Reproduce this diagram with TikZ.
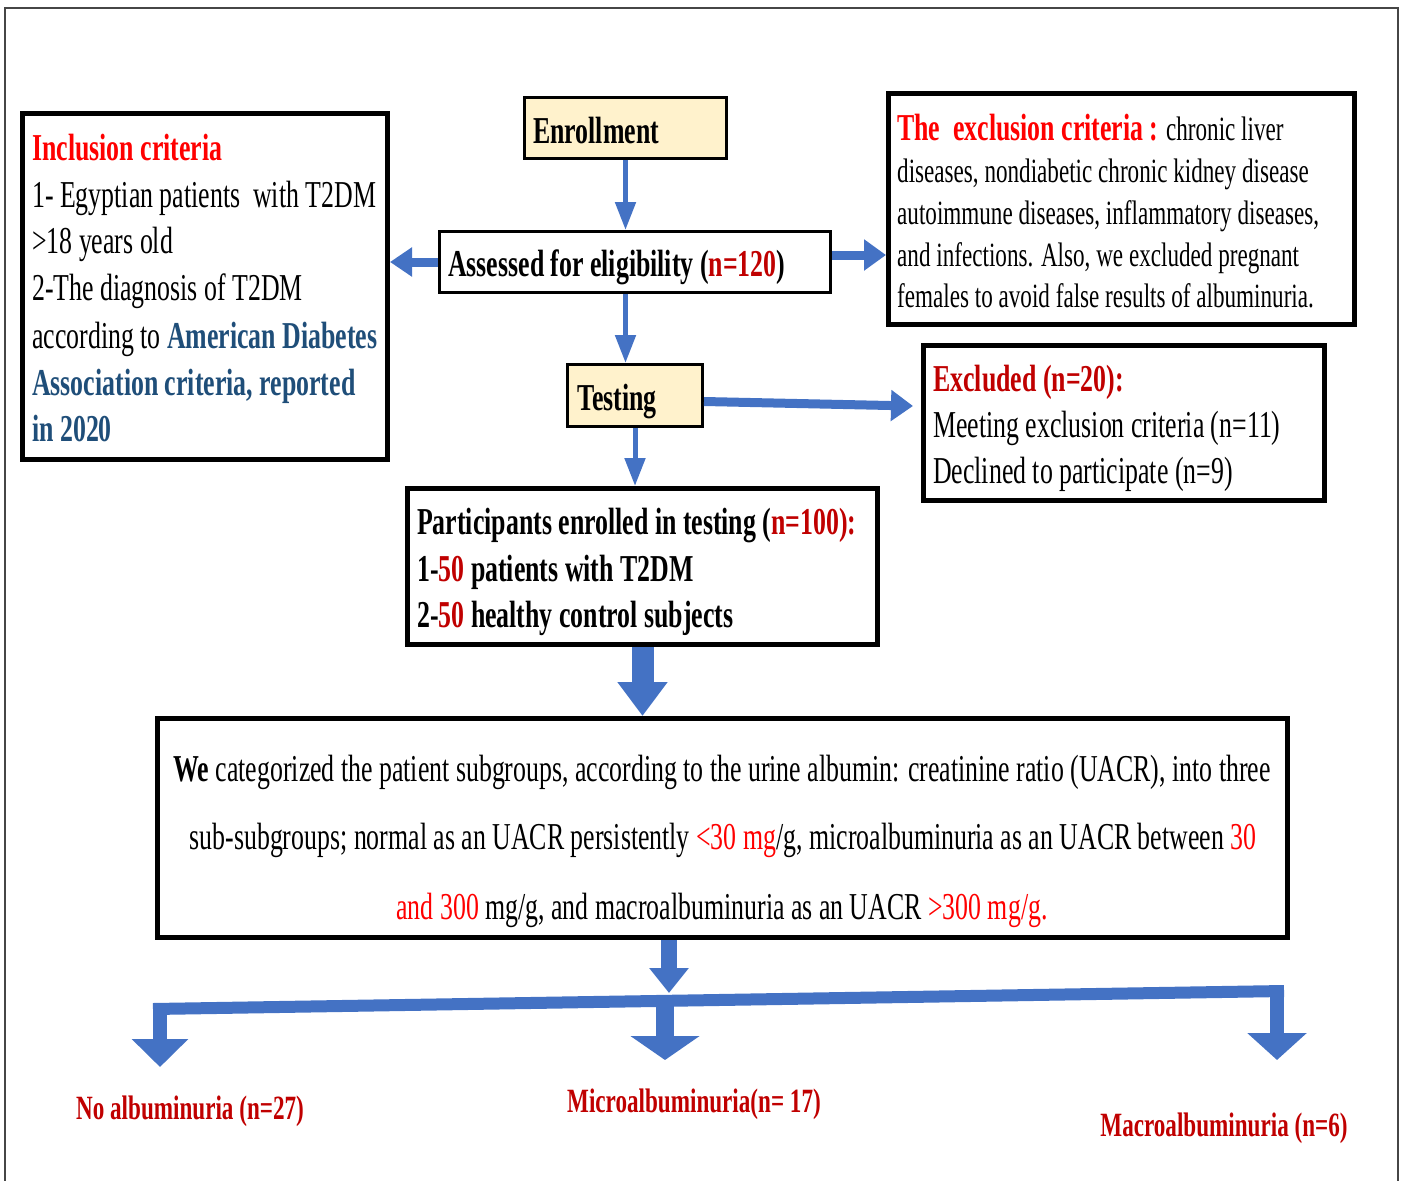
\documentclass[tikz,border=0pt]{standalone}
\usepackage{fontspec}
\setmainfont{Liberation Serif}[FakeStretch=0.68]
\usetikzlibrary{arrows.meta}
\definecolor{brightred}{RGB}{255,0,0}
\definecolor{darkred}{RGB}{192,0,0}
\definecolor{adablue}{RGB}{31,78,121}
\definecolor{arrowblue}{RGB}{68,114,196}
\definecolor{yellowfill}{RGB}{255,242,204}
\definecolor{framegray}{RGB}{70,70,70}
\newcommand\fbig{\fontsize{38}{46}\selectfont}
\newcommand\fmid{\fontsize{34}{42}\selectfont}
\begin{document}
\begin{tikzpicture}[x=1pt,y=-1pt,
  wbox/.style={draw=black, line width=5pt, fill=white, inner sep=0pt},
  thinbox/.style={draw=black, line width=3pt, fill=white, inner sep=0pt},
  ybox/.style={draw=black, line width=3pt, fill=yellowfill, inner sep=0pt},
  txt/.style={anchor=base west, inner sep=0pt, font=\fbig},
  txtm/.style={anchor=base west, inner sep=0pt, font=\fmid},
  ctxt/.style={anchor=base, inner sep=0pt, font=\fbig},
  lab/.style={anchor=base, inner sep=0pt, font=\fmid\bfseries, text=darkred},
  barrow/.style n args={3}{draw=arrowblue, line width=#1, -{Triangle[width=#2, length=#3]}},
  bar/.style={draw=arrowblue, line width=12pt}]
\useasboundingbox (0,0) rectangle (1402,1180);
% frame
\draw[framegray, line width=1.5pt] (5,1185) -- (5,8) -- (1398,8) -- (1398,1185);

% boxes
\node[wbox, minimum width=365pt, minimum height=346pt] (inc) at (205,286.5) {};
\node[ybox, minimum width=202pt, minimum height=61pt] (enr) at (625.5,128) {};
\node[thinbox, minimum width=391pt, minimum height=61pt] (ass) at (635,262) {};
\node[wbox, minimum width=466pt, minimum height=231pt] (exc) at (1121.5,209) {};
\node[ybox, minimum width=135pt, minimum height=62pt] (tst) at (635,395.5) {};
\node[wbox, minimum width=401pt, minimum height=155pt] (exd) at (1124,423) {};
\node[wbox, minimum width=470pt, minimum height=156pt] (par) at (642.5,566.5) {};
\node[wbox, minimum width=1130pt, minimum height=219pt] (big) at (722.5,828) {};

% inclusion text
\node[txt] (inc1) at (32,160) {\bfseries\color{brightred}Inclusion criteria};
\node[txt] (inc2) at (32,207) {1- Egyptian patients\ \ with T2DM};
\node[txt] (inc3) at (32,253) {>18 years old};
\node[txt] (inc4) at (32,300) {2-The diagnosis of T2DM};
\node[txt] (inc5) at (32,348) {according to {\bfseries\color{adablue}American Diabetes}};
\node[txt] (inc6) at (32,395) {\bfseries\color{adablue}Association criteria, reported};
\node[txt] (inc7) at (32,441) {\bfseries\color{adablue}in 2020};

% enrollment / assessed / testing
\node[txt] (enrt) at (533,143) {\bfseries Enrollment};
\node[txt] (asst) at (448,276) {\bfseries Assessed for eligibility ({\color{darkred}n=120})};
\node[txt] (tstt) at (577,410) {\bfseries Testing};

% exclusion criteria
\node[txtm] (exc1) at (897,141) {{\fbig\bfseries\color{brightred}The\ \ exclusion criteria :} chronic liver};
\node[txtm] (exc2) at (897,182) {diseases, nondiabetic chronic kidney disease};
\node[txtm] (exc3) at (897,224) {autoimmune diseases, inflammatory diseases,};
\node[txtm] (exc4) at (897,266) {and infections. Also, we excluded pregnant};
\node[txtm] (exc5) at (897,307) {females to avoid false results of albuminuria.};

% excluded
\node[txt] (exd1) at (933,391) {\bfseries\color{darkred}Excluded (n=20):};
\node[txt] (exd2) at (933,437) {Meeting exclusion criteria (n=11)};
\node[txt] (exd3) at (933,483) {Declined to participate (n=9)};

% participants
\node[txt] (par1) at (417,534) {\bfseries Participants enrolled in testing ({\color{darkred}n=100):}};
\node[txt] (par2) at (417,581) {\bfseries 1-{\color{darkred}50} patients with T2DM};
\node[txt] (par3) at (417,627) {\bfseries 2-{\color{darkred}50} healthy control subjects};

% big box text
\node[ctxt] (big1) at (722,781) {{\bfseries We} categorized the patient subgroups, according to the urine albumin: creatinine ratio (UACR), into three};
\node[ctxt] (big2) at (723,849) {sub-subgroups; normal as an UACR persistently {\color{brightred}<30 mg}/g, microalbuminuria as an UACR between {\color{brightred}30}};
\node[ctxt] (big3) at (722,919) {{\color{brightred}and 300} mg/g, and macroalbuminuria as an UACR {\color{brightred}>300 mg/g.}};

% bottom labels
\node[lab] (noalb) at (190,1119) {No albuminuria (n=27)};
\node[lab] (micro) at (694,1112) {Microalbuminuria(n= 17)};
\node[lab] (macro) at (1224,1136) {Macroalbuminuria (n=6)};

% coordinates for branching
\coordinate (bm) at (669,993);
\coordinate (bl) at (153,1009);
\coordinate (br) at (1284,991);
\coordinate (lt) at (160,1003);
\coordinate (mt) at (665,1000);
\coordinate (rt) at (1277,985);
\coordinate (la) at (160,1067);
\coordinate (ma) at (665,1060);
\coordinate (ra) at (1277,1060);

% connectors
\draw[barrow={5pt}{20pt}{28pt}] (enr.south) -- (enr.south |- ass.north);
\draw[barrow={9pt}{28pt}{22pt}] (ass.west) -- (ass.west -| inc.east);
\draw[barrow={9pt}{30pt}{22pt}] ([yshift=7pt]ass.east) -- ([yshift=7pt]ass.east -| exc.west);
\draw[barrow={5pt}{20pt}{28pt}] (enr.south |- ass.south) -- (enr.south |- tst.north);
\draw[barrow={9pt}{30pt}{22pt}] ([yshift=-6pt]tst.east) -- ([yshift=17pt,xshift=-8pt]exd.west);
\draw[barrow={5pt}{20pt}{28pt}] (tst.south) -- (tst.south |- par.north);
\draw[barrow={22pt}{48pt}{34pt}] (par.south) -- (par.south |- big.north);
\draw[barrow={16pt}{38pt}{25pt}] (big.south -| bm) -- (bm);
\draw[bar] (bl) -- (br);
\draw[barrow={14pt}{55pt}{28pt}] (lt) -- (la);
\draw[barrow={18pt}{68pt}{24pt}] (mt) -- (ma);
\draw[barrow={14pt}{58pt}{27pt}] (rt) -- (ra);
\end{tikzpicture}
\end{document}
